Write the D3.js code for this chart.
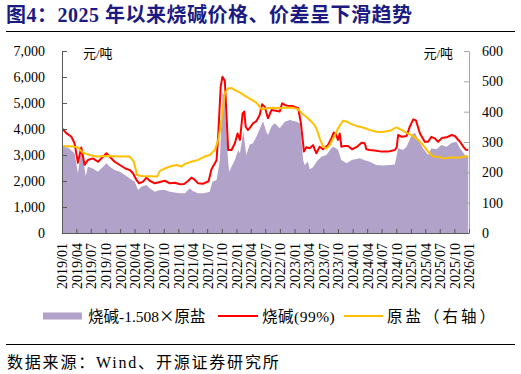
<!DOCTYPE html>
<html>
<head>
<meta charset="utf-8">
<script src="https://cdn.jsdelivr.net/npm/d3@7/dist/d3.min.js"></script>
<style>
  html, body { margin: 0; padding: 0; background: #fff; }
  svg { display: block; }
  text { font-family: 'Liberation Serif', 'Noto Sans CJK SC', serif; }
</style>
</head>
<body>
<div id="chart"></div>
<script>
// 烧碱(99%) price, yuan/ton (left axis)
var sodaPrice = [
  ['2019-01-05', 4000], ['2019-01-30', 3830], ['2019-03-01', 3700], ['2019-03-21', 3450],
  ['2019-04-11', 2700], ['2019-05-02', 3290], ['2019-05-23', 2620], ['2019-06-13', 2810],
  ['2019-07-14', 2870], ['2019-08-15', 2740], ['2019-09-16', 2935], ['2019-10-07', 3065],
  ['2019-10-28', 2935], ['2019-11-28', 2740], ['2019-12-30', 2615], ['2020-02-01', 2490],
  ['2020-03-02', 2420], ['2020-03-22', 2300], ['2020-04-13', 2040], ['2020-04-29', 1910],
  ['2020-05-24', 1975], ['2020-06-15', 2130], ['2020-07-05', 2010], ['2020-08-06', 1910],
  ['2020-09-07', 1960], ['2020-10-08', 2010], ['2020-11-09', 1910], ['2020-12-10', 1930],
  ['2021-01-11', 1875], ['2021-02-06', 1885], ['2021-03-03', 2000], ['2021-03-24', 2130],
  ['2021-04-14', 2050], ['2021-05-05', 1910], ['2021-06-03', 1890], ['2021-07-10', 1990],
  ['2021-07-28', 2450], ['2021-08-29', 2800], ['2021-09-09', 3830], ['2021-09-24', 5630],
  ['2021-10-05', 6010], ['2021-10-20', 5850], ['2021-10-31', 4470], ['2021-11-10', 3190],
  ['2021-12-01', 3190], ['2021-12-22', 3450], ['2022-01-08', 3830], ['2022-01-23', 3580],
  ['2022-02-09', 4600], ['2022-02-19', 4670], ['2022-02-28', 4100], ['2022-03-14', 3960],
  ['2022-04-01', 4090], ['2022-04-15', 4220], ['2022-05-06', 4300], ['2022-05-27', 4540],
  ['2022-06-11', 4950], ['2022-06-28', 4850], ['2022-07-18', 4410], ['2022-08-09', 4730],
  ['2022-09-05', 4700], ['2022-09-30', 4670], ['2022-10-15', 4990], ['2022-11-01', 4930],
  ['2022-11-22', 4880], ['2022-12-21', 4880], ['2023-01-24', 4800], ['2023-02-10', 4220],
  ['2023-02-21', 3580], ['2023-03-01', 3130], ['2023-03-16', 3300], ['2023-04-06', 3260],
  ['2023-04-27', 3380], ['2023-05-18', 3065], ['2023-06-08', 3320], ['2023-06-29', 3220],
  ['2023-07-30', 3380], ['2023-08-20', 3640], ['2023-09-04', 3860], ['2023-09-17', 3800],
  ['2023-10-01', 3580], ['2023-10-12', 3830], ['2023-10-22', 3320], ['2023-11-12', 3350],
  ['2023-12-03', 3350], ['2023-12-28', 3220], ['2024-01-25', 3300], ['2024-02-26', 3470],
  ['2024-03-17', 3450], ['2024-03-27', 3220], ['2024-04-17', 3190], ['2024-05-18', 3170],
  ['2024-06-30', 3130], ['2024-08-11', 3130], ['2024-09-22', 3190], ['2024-10-04', 3300],
  ['2024-10-13', 3770], ['2024-11-05', 3700], ['2024-12-05', 3730], ['2024-12-25', 4090],
  ['2025-01-16', 4370], ['2025-02-02', 4330], ['2025-02-27', 3830], ['2025-03-29', 3510],
  ['2025-04-19', 3510], ['2025-05-10', 3700], ['2025-05-31', 3640], ['2025-06-21', 3510],
  ['2025-07-14', 3650], ['2025-08-13', 3680], ['2025-09-14', 3770], ['2025-10-04', 3730],
  ['2025-11-05', 3510], ['2025-11-26', 3320], ['2025-12-13', 3200], ['2025-12-27', 3190]
];

// 原盐 price, yuan/ton (right axis)
var saltPrice = [
  ['2019-01-05', 287], ['2019-03-10', 285], ['2019-04-09', 283], ['2019-05-12', 265],
  ['2019-06-24', 257], ['2019-08-05', 252], ['2019-10-17', 254], ['2019-12-30', 252],
  ['2020-03-02', 252], ['2020-03-27', 235], ['2020-04-17', 191], ['2020-05-14', 188],
  ['2020-07-05', 187], ['2020-08-21', 186], ['2020-09-07', 205], ['2020-10-19', 215],
  ['2020-11-20', 221], ['2020-12-23', 224], ['2021-01-22', 219], ['2021-02-12', 228],
  ['2021-03-24', 235], ['2021-05-05', 241], ['2021-06-16', 252], ['2021-07-17', 257],
  ['2021-08-18', 274], ['2021-09-09', 307], ['2021-09-29', 373], ['2021-10-20', 461],
  ['2021-11-10', 477], ['2021-12-05', 477], ['2021-12-22', 471], ['2022-01-23', 463],
  ['2022-02-24', 452], ['2022-03-25', 443], ['2022-05-06', 430], ['2022-05-27', 416],
  ['2022-06-09', 408], ['2022-07-08', 411], ['2022-08-17', 413], ['2022-09-30', 411],
  ['2022-11-12', 414], ['2022-12-21', 413], ['2023-01-24', 408], ['2023-02-14', 395],
  ['2023-03-16', 383], ['2023-04-17', 367], ['2023-05-08', 355], ['2023-05-22', 340],
  ['2023-06-08', 312], ['2023-06-29', 285], ['2023-07-20', 279], ['2023-08-10', 290],
  ['2023-09-04', 315], ['2023-10-01', 345], ['2023-11-02', 370], ['2023-11-23', 368],
  ['2023-12-24', 359], ['2024-01-25', 353], ['2024-03-06', 348], ['2024-04-17', 340],
  ['2024-05-29', 334], ['2024-07-08', 333], ['2024-08-21', 337], ['2024-10-02', 348],
  ['2024-11-03', 340], ['2024-12-05', 330], ['2025-01-08', 322], ['2025-02-16', 307],
  ['2025-03-18', 290], ['2025-04-19', 268], ['2025-05-20', 252], ['2025-06-21', 251],
  ['2025-08-02', 246], ['2025-09-14', 250], ['2025-10-15', 248], ['2025-11-16', 250],
  ['2025-12-27', 254]
];

// 烧碱-1.508×原盐 spread, yuan/ton (left axis)
var sodaSpread = [
  ['2019-01-05', 3320], ['2019-02-08', 3280], ['2019-03-21', 3065], ['2019-04-11', 2300],
  ['2019-05-02', 3190], ['2019-05-17', 2700], ['2019-05-30', 2190], ['2019-06-13', 2550],
  ['2019-07-14', 2480], ['2019-08-15', 2360], ['2019-09-16', 2550], ['2019-10-07', 2680],
  ['2019-10-28', 2550], ['2019-11-28', 2420], ['2019-12-30', 2360], ['2020-02-01', 2230],
  ['2020-03-02', 2100], ['2020-04-02', 1975], ['2020-04-23', 1650], ['2020-05-14', 1780],
  ['2020-06-15', 1846], ['2020-07-05', 1720], ['2020-08-06', 1590], ['2020-09-07', 1650],
  ['2020-10-08', 1650], ['2020-11-09', 1590], ['2020-12-10', 1560], ['2021-01-11', 1530],
  ['2021-02-12', 1530], ['2021-03-13', 1720], ['2021-04-01', 1620], ['2021-05-05', 1530],
  ['2021-06-09', 1530], ['2021-07-17', 1590], ['2021-08-03', 1975], ['2021-08-29', 2040],
  ['2021-09-19', 2810], ['2021-10-05', 5430], ['2021-10-18', 5240], ['2021-10-31', 3700],
  ['2021-11-08', 2900], ['2021-11-16', 2350], ['2021-12-01', 2550], ['2021-12-22', 2810],
  ['2022-01-12', 3190], ['2022-01-23', 3065], ['2022-02-13', 3900], ['2022-03-04', 3000],
  ['2022-03-25', 3400], ['2022-04-15', 3450], ['2022-05-06', 3700], ['2022-06-07', 4150],
  ['2022-06-17', 4300], ['2022-07-08', 3880], ['2022-07-18', 3770], ['2022-08-09', 4100],
  ['2022-08-30', 4220], ['2022-09-30', 4030], ['2022-11-01', 4280], ['2022-12-02', 4350],
  ['2023-01-14', 4280], ['2023-02-04', 4220], ['2023-02-24', 2810], ['2023-03-05', 2615],
  ['2023-03-26', 2750], ['2023-04-06', 2450], ['2023-04-27', 2530], ['2023-05-20', 2750],
  ['2023-06-18', 2935], ['2023-07-20', 3000], ['2023-08-20', 3257], ['2023-09-04', 3320],
  ['2023-10-01', 3200], ['2023-10-22', 2810], ['2023-11-23', 2680], ['2023-12-26', 2810],
  ['2024-02-15', 2873], ['2024-03-17', 2800], ['2024-04-17', 2740], ['2024-05-29', 2615],
  ['2024-07-08', 2600], ['2024-08-21', 2615], ['2024-09-22', 2630], ['2024-10-13', 3257],
  ['2024-11-13', 3190], ['2024-12-05', 3320], ['2025-01-06', 3769], ['2025-01-27', 3860],
  ['2025-02-15', 3600], ['2025-03-18', 3257], ['2025-04-19', 3000], ['2025-05-10', 3257],
  ['2025-06-11', 3220], ['2025-07-12', 3384], ['2025-08-13', 3320], ['2025-09-14', 3473],
  ['2025-10-15', 3511], ['2025-11-05', 3257], ['2025-12-06', 3000], ['2025-12-27', 2900]
];

var leftTicks = [0, 1000, 2000, 3000, 4000, 5000, 6000, 7000];
var rightTicks = [0, 100, 200, 300, 400, 500, 600];
var dateRange = ['2019-01-01', '2026-01-01'];
var legendLabels = [['烧碱-1.508', '×', '原盐'], ['烧碱(99%)'], ['原盐（右轴）']];
var unitLabel = '元/吨';
var titleText = '图4：2025 年以来烧碱价格、价差呈下滑趋势';
var sourceText = '数据来源：Wind、开源证券研究所';

function chartSodaSpread(settings) {

  var self = this;
  self.container = settings.container;
  self.width = 521;
  self.height = 374;

  var parse = d3.timeParse('%Y-%m-%d');
  var colors = {area: '#b0a2c8', soda: '#ff0000', salt: '#ffc000', title: '#1b1b82'};
  var plot = {left: 62, right: 469, top: 51, bottom: 233};

  var svg = d3.select(self.container).append('svg')
    .attr('width', self.width)
    .attr('height', self.height);

  var x = d3.scaleTime()
    .domain(dateRange.map(parse))
    .range([plot.left, plot.right]);
  var yLeft = d3.scaleLinear()
    .domain([leftTicks[0], leftTicks[leftTicks.length - 1]])
    .range([plot.bottom, plot.top]);
  var yRight = d3.scaleLinear()
    .domain([rightTicks[0], rightTicks[rightTicks.length - 1]])
    .range([plot.bottom, plot.top]);

  // title + rule
  svg.append('text')
    .attr('x', 6)
    .attr('y', 22)
    .attr('font-size', 20)
    .attr('font-weight', 'bold')
    .attr('letter-spacing', 0.5)
    .attr('fill', colors.title)
    .text(titleText);
  svg.append('line')
    .attr('x1', 6).attr('x2', 515)
    .attr('y1', 31.5).attr('y2', 31.5)
    .attr('stroke', '#000').attr('stroke-width', 1);

  // spread area
  var area = d3.area()
    .x(function (d) { return x(parse(d[0])); })
    .y0(yLeft(0))
    .y1(function (d) { return yLeft(d[1]); });
  svg.append('path')
    .datum(sodaSpread)
    .attr('d', area)
    .attr('fill', colors.area);

  var sodaLine = d3.line()
    .x(function (d) { return x(parse(d[0])); })
    .y(function (d) { return yLeft(d[1]); });
  var saltLine = d3.line()
    .x(function (d) { return x(parse(d[0])); })
    .y(function (d) { return yRight(d[1]); });

  svg.append('path')
    .datum(sodaPrice)
    .attr('d', sodaLine)
    .attr('fill', 'none')
    .attr('stroke', colors.soda)
    .attr('stroke-width', 2)
    .attr('stroke-linejoin', 'round');
  svg.append('path')
    .datum(saltPrice)
    .attr('d', saltLine)
    .attr('fill', 'none')
    .attr('stroke', colors.salt)
    .attr('stroke-width', 2)
    .attr('stroke-linejoin', 'round');

  // axes
  var gLeft = svg.append('g')
    .attr('transform', 'translate(' + plot.left + ',0)')
    .call(d3.axisLeft(yLeft).tickValues(leftTicks).tickSizeInner(-5).tickSizeOuter(0)
      .tickPadding(17).tickFormat(d3.format(',')));
  var gRight = svg.append('g')
    .attr('transform', 'translate(' + plot.right + ',0)')
    .call(d3.axisRight(yRight).tickValues(rightTicks).tickSizeInner(-5).tickSizeOuter(0)
      .tickPadding(13));
  var gBottom = svg.append('g')
    .attr('transform', 'translate(0,' + plot.bottom + ')')
    .call(d3.axisBottom(x).ticks(d3.timeMonth.every(3)).tickSizeInner(-4).tickSizeOuter(0)
      .tickFormat(d3.timeFormat('%Y/%m')));

  [gLeft, gRight, gBottom].forEach(function (g) {
    g.select('.domain').attr('stroke', g === gRight ? '#a6a6a6' : '#595959');
    g.selectAll('.tick line').attr('stroke', g === gRight ? '#a6a6a6' : '#595959');
    g.selectAll('text')
      .attr('fill', '#000')
      .attr('font-size', 14)
      .attr('font-family', "'Liberation Serif', serif");
  });

  gBottom.selectAll('text')
    .attr('text-anchor', 'end')
    .attr('transform', 'translate(0,10) rotate(-90)')
    .attr('x', 0)
    .attr('y', 0)
    .attr('dy', '0.35em');

  // units
  svg.append('text')
    .attr('x', 83).attr('y', 58)
    .attr('font-size', 13)
    .text(unitLabel);
  svg.append('text')
    .attr('x', 453).attr('y', 58)
    .attr('font-size', 13)
    .attr('text-anchor', 'end')
    .text(unitLabel);

  // legend
  var legend = svg.append('g').attr('transform', 'translate(0,316)');
  legend.append('rect')
    .attr('x', 43).attr('y', -3.5)
    .attr('width', 39).attr('height', 7)
    .attr('fill', colors.area);
  legend.append('line')
    .attr('x1', 218).attr('x2', 258)
    .attr('stroke', colors.soda).attr('stroke-width', 2);
  legend.append('line')
    .attr('x1', 344).attr('x2', 383)
    .attr('stroke', colors.salt).attr('stroke-width', 2);
  var legendX = [88, 262, 387];
  var legendSpacing = [0, 0.5, 3];
  legendLabels.forEach(function (parts, i) {
    var t = legend.append('text')
      .attr('x', legendX[i]).attr('y', 0)
      .attr('dy', '0.36em')
      .attr('font-size', 15.5)
      .attr('letter-spacing', legendSpacing[i]);
    parts.forEach(function (p) {
      var s = t.append('tspan').text(p);
      // the multiplication sign is drawn full width, as in the CJK font
      if (p === '×') s.attr('font-family', "'Noto Sans CJK SC', sans-serif");
    });
  });

  // source
  svg.append('line')
    .attr('x1', 6).attr('x2', 515)
    .attr('y1', 344.5).attr('y2', 344.5)
    .attr('stroke', '#000').attr('stroke-width', 1);
  svg.append('text')
    .attr('x', 7).attr('y', 362)
    .attr('dy', '0.36em')
    .attr('font-size', 16)
    .attr('letter-spacing', 1.8)
    .text(sourceText);
}

chartSodaSpread({container: '#chart'});
</script>
</body>
</html>
